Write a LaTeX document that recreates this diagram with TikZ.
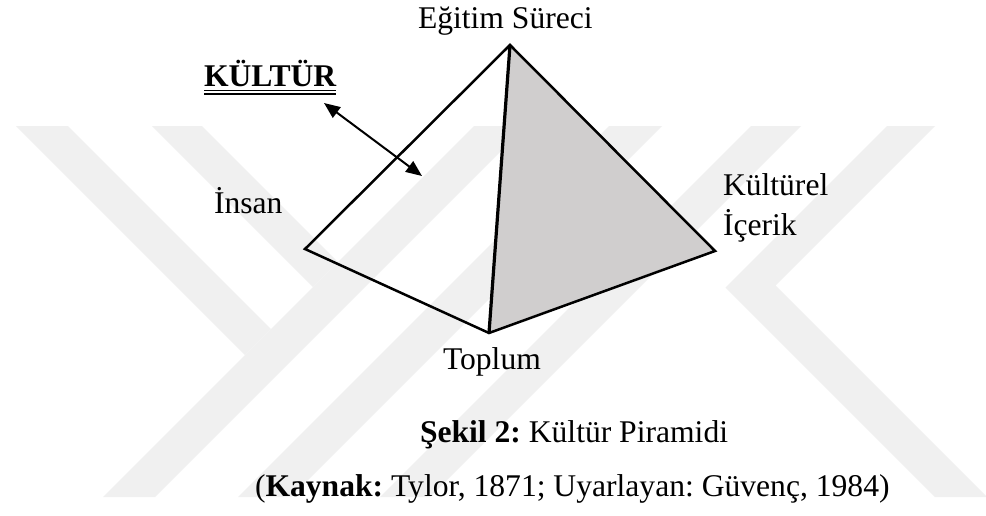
\documentclass[tikz,border=0pt]{standalone}
\usepackage{fontspec}
\setmainfont{Liberation Serif}
\usetikzlibrary{arrows.meta,calc}
\definecolor{wm}{RGB}{240,240,240}
\definecolor{face}{RGB}{208,206,206}
\frenchspacing
\begin{document}
\begin{tikzpicture}[x=0.5pt,y=-0.5pt,
  lbl/.style={inner sep=0pt, outer sep=0pt, anchor=base west, font=\fontsize{15.8}{19}\selectfont},
  edge/.style={line width=1.25pt, line join=miter},
  midedge/.style={line width=1.6pt},
  wmband/.style={fill=wm, draw=none},
  dblarrow/.style={line width=1pt, {Triangle[length=8pt,width=6.5pt]}-{Triangle[length=8pt,width=6.5pt]}},
  uline/.style={line width=0.75pt}]
\useasboundingbox[fill=white] (0,0) rectangle (986,515);
% faint watermark bands
\path[wmband] (16,126) -- (68,126) -- (271,329) -- (245,355) -- cycle;
\path[wmband] (152,126) -- (202,126) -- (338,262) -- (313,287) -- cycle;
\path[wmband] (474,126) -- (526,126) -- (155,497) -- (103,497) -- cycle;
\path[wmband] (609,126) -- (662,126) -- (291,497) -- (238,497) -- cycle;
\path[wmband] (751,126) -- (801,126) -- (430,497) -- (380,497) -- cycle;
\path[wmband] (887,126) -- (935,126) -- (775.5,285.5) -- (987,497) -- (935,497) -- (725.5,287.5) -- cycle;
% pyramid
\coordinate (apex) at (510,45);
\coordinate (lv) at (305,249);
\coordinate (rv) at (715,251);
\coordinate (bv) at (489,333);
\fill[face] (apex) -- (rv) -- (bv) -- cycle;
\draw[edge] (apex) -- (lv) -- (bv) -- (rv) -- cycle;
\draw[midedge] (apex) -- (bv);
% labels
\node[lbl] (edu) at (418,28) {Eğitim Süreci};
\node[lbl, font=\fontsize{15.8}{19}\selectfont\bfseries] (kul) at (204,86) {KÜLTÜR};
\draw[uline] ($(kul.base west)+(0,4.5)$) -- ($(kul.base east)+(0,4.5)$);
\draw[uline] ($(kul.base west)+(0,8)$) -- ($(kul.base east)+(0,8)$);
\node[lbl] (ins) at (214,213) {İnsan};
\node[lbl] (kc1) at (723,195) {Kültürel};
\node[lbl] (kc2) at (723,235) {İçerik};
\node[lbl] (top) at (443,369) {Toplum};
\node[lbl] (cap) at (420,442) {\textbf{Şekil 2:} Kültür Piramidi};
\node[lbl] (src) at (255,496) {(\textbf{Kaynak:} Tylor, 1871; Uyarlayan: Güvenç, 1984)};
% arrow
\coordinate (a1) at (324,103);
\coordinate (a2) at (422,176);
\draw[dblarrow] (a1) -- (a2);
\end{tikzpicture}
\end{document}
